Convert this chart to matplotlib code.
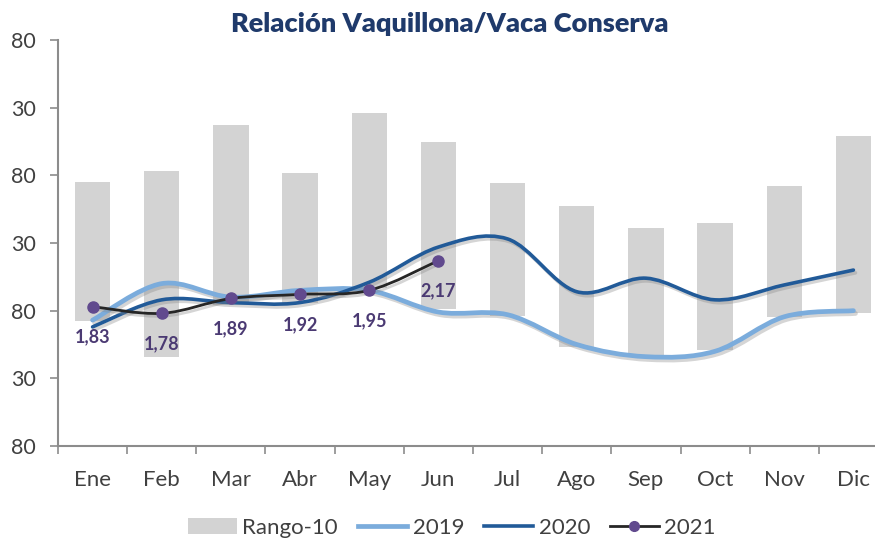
import numpy as np
import matplotlib
matplotlib.use("Agg")
import matplotlib.pyplot as plt
from matplotlib.path import Path
from matplotlib.patches import PathPatch, Patch
from matplotlib.lines import Line2D
import matplotlib.patheffects as pe

plt.rcParams['font.family'] = ['Lato', 'DejaVu Sans']

months = ['Ene', 'Feb', 'Mar', 'Abr', 'May', 'Jun', 'Jul', 'Ago', 'Sep', 'Oct', 'Nov', 'Dic']

# Rango-10: floating bars (min / max of last 10 years)
rango_min = [1.72, 1.46, 1.84, 1.86, 1.97, 1.81, 1.76, 1.53, 1.47, 1.51, 1.75, 1.785]
rango_max = [2.75, 2.835, 3.175, 2.82, 3.26, 3.05, 2.74, 2.57, 2.41, 2.45, 2.72, 3.09]

s2019 = [1.73, 2.00, 1.90, 1.95, 1.95, 1.79, 1.77, 1.55, 1.46, 1.50, 1.755, 1.80]
s2020 = [1.68, 1.88, 1.86, 1.86, 2.01, 2.27, 2.33, 1.94, 2.04, 1.88, 1.99, 2.10]
s2021 = [1.83, 1.78, 1.89, 1.92, 1.95, 2.17]
labels2021 = ['1,83', '1,78', '1,89', '1,92', '1,95', '2,17']

yticks = [0.8, 1.3, 1.8, 2.3, 2.8, 3.3, 3.8]
ytick_labels = ['80', '30', '80', '30', '80', '30', '80']

c_bar = '#d3d3d3'
c2019 = '#7bacdc'
c2020 = '#215a98'
c2021 = '#262626'
c_mark = '#614a8e'
c_text = '#404040'


def smooth_path(xs, ys):
    # Excel-style smoothed line: Catmull-Rom segments as cubic Beziers
    pts = np.column_stack([xs, ys]).astype(float)
    n = len(pts)
    verts = [pts[0]]
    codes = [Path.MOVETO]
    for i in range(n - 1):
        p0 = pts[i - 1] if i > 0 else pts[i]
        p1 = pts[i]
        p2 = pts[i + 1]
        p3 = pts[i + 2] if i + 2 < n else pts[i + 1]
        c1 = p1 + (p2 - p0) / 6.0
        c2 = p2 - (p3 - p1) / 6.0
        verts += [c1, c2, p2]
        codes += [Path.CURVE4] * 3
    return Path(verts, codes)


fig = plt.figure(figsize=(8.75, 5.43), dpi=100)
ax = fig.add_axes([58 / 875, 97 / 543, 830 / 875, 406 / 543])

x = np.arange(len(months))
heights = np.array(rango_max) - np.array(rango_min)
ax.bar(x, heights, bottom=rango_min, width=0.51, color=c_bar, zorder=1)

shadow = [pe.SimpleLineShadow(offset=(1.5, -2), shadow_color='#888888', alpha=0.35), pe.Normal()]

for ys, col, lw in [(s2019, c2019, 3.4), (s2020, c2020, 2.6)]:
    p = PathPatch(smooth_path(x, ys), facecolor='none', edgecolor=col, lw=lw,
                  capstyle='round', zorder=3)
    p.set_path_effects(shadow)
    ax.add_patch(p)

x21 = x[:len(s2021)]
p = PathPatch(smooth_path(x21, s2021), facecolor='none', edgecolor=c2021, lw=2.0,
              capstyle='round', zorder=4)
p.set_path_effects(shadow)
ax.add_patch(p)
ax.plot(x21, s2021, 'o', color=c_mark, ms=8, zorder=5)

for xi, yi, lab in zip(x21, s2021, labels2021):
    ax.annotate(lab, (xi, yi), xytext=(0, -22), textcoords='offset points',
                ha='center', va='center', fontsize=13, fontweight='bold',
                color='#4b3a73', zorder=6)

ax.set_xlim(-0.5, 11.5)
ax.set_ylim(0.8, 3.8)
ax.set_yticks(yticks)
ax.set_yticklabels(ytick_labels)
ax.set_xticks(x)
ax.set_xticklabels(months)
ax.set_xticks(np.arange(-0.5, 12, 1), minor=True)
ax.tick_params(axis='x', which='major', length=0, pad=17, labelsize=16, labelcolor=c_text)
ax.tick_params(axis='x', which='minor', length=6, width=1.2, color='#8c8c8c')
ax.tick_params(axis='y', length=6, width=1.2, color='#8c8c8c', labelsize=15.5,
               labelcolor=c_text, pad=10)

for s in ['top', 'right']:
    ax.spines[s].set_visible(False)
for s in ['left', 'bottom']:
    ax.spines[s].set_color('#8c8c8c')
    ax.spines[s].set_linewidth(1.5)

fig.text(450 / 875, 1 - 24 / 543, 'Relación Vaquillona/Vaca Conserva', ha='center', va='center',
         fontsize=19.5, fontweight='heavy', color='#1f3a6b')

handles = [
    Patch(facecolor=c_bar, edgecolor='none'),
    Line2D([], [], color=c2019, lw=3.4),
    Line2D([], [], color=c2020, lw=2.6),
    Line2D([], [], color=c2021, lw=2.0, marker='o', ms=7, mfc=c_mark, mec=c_mark),
]
fig.legend(handles, ['Rango-10', '2019', '2020', '2021'], loc='center',
           bbox_to_anchor=(452 / 875, 1 - 528 / 543), ncol=4, frameon=False,
           fontsize=16, handlelength=2.2, handletextpad=0.25, columnspacing=0.9,
           labelcolor=c_text)

fig.savefig('out.png', dpi=100)
